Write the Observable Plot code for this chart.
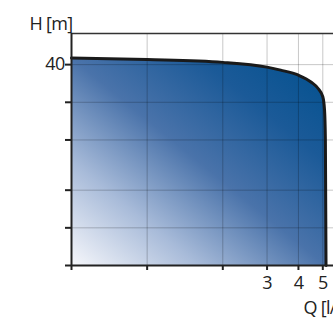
<!DOCTYPE html>
<html><head><meta charset="utf-8">
<script src="https://cdn.jsdelivr.net/npm/d3@7"></script>
<script src="https://cdn.jsdelivr.net/npm/@observablehq/plot@0.6"></script>
<style>body{margin:0;background:#fff;overflow:hidden} svg{overflow:hidden !important} svg text{letter-spacing:-0.7px}</style>
</head><body><div id="chart"></div>
<script>
// Pump curve: flow Q [l/s] vs head H [m]
const flowQ = [0.5, 1, 2, 3, 3.4, 4, 4.5, 4.8, 5.0, 5.08, 5.12, 5.15];
const headH = [41.3, 41.0, 40.45, 39.5, 38.9, 37.9, 36.5, 35.2, 33.6, 31, 25, 0];
const xTicks = [0.5, 1, 2, 3, 4, 5];
const xTickLabels = ["", "", "", "3", "4", "5"];
const yTicks = [0, 7.5, 15, 25, 32.5, 40];
const yTickLabels = ["", "", "", "", "", "40"];
const xTitle = "Q [l/s]";
const yTitle = "H [m]";

const curveData = flowQ.map((q, i) => ({q, h: headH[i]}));
const xLabelMap = new Map(xTicks.map((t, i) => [t, xTickLabels[i]]));
const yLabelMap = new Map(yTicks.map((t, i) => [t, yTickLabels[i]]));
const yMax = 46.2, xMax = 7;

const chart = Plot.plot({
  width: 333, height: 320,
  marginLeft: 71, marginTop: 33, marginBottom: 55, marginRight: 0,
  x: {type: "log", domain: [0.5, 5], range: [71, 322.3]},
  y: {domain: [0, yMax], range: [265, 33]},
  style: {fontFamily: "'Open Sans', sans-serif", fontSize: "18px", color: "#222", background: "#fff"},
  marks: [
    Plot.areaY(curveData, {x: "q", y: "h", fill: "url(#pumpGrad)", curve: "monotone-x"}),
    Plot.ruleX(xTicks.slice(1), {y1: 0, y2: yMax, stroke: "#000", strokeOpacity: 0.22}),
    Plot.ruleY(yTicks.slice(1), {x1: 0.5, x2: xMax, stroke: "#000", strokeOpacity: 0.22}),
    Plot.lineY(curveData, {x: "q", y: "h", stroke: "#1a1a1a", strokeWidth: 3, curve: "monotone-x"}),
    Plot.ruleY([yMax], {x1: 0.5, x2: xMax, stroke: "#333", strokeWidth: 1.5}),
    Plot.ruleY([0], {x1: 0.5, x2: xMax, stroke: "#222", strokeWidth: 2}),
    Plot.ruleX([0.5], {y1: 0, y2: yMax, stroke: "#222", strokeWidth: 2}),
    Plot.axisY({ticks: yTicks, tickFormat: d => yLabelMap.get(d), tickSize: 6, tickPadding: 1, stroke: "#222", strokeWidth: 2, label: null}),
    Plot.axisX({ticks: xTicks, tickFormat: d => xLabelMap.get(d), tickSize: 5, tickPadding: 6, stroke: "#222", strokeWidth: 2, label: null}),
    Plot.text([yTitle], {frameAnchor: "top-left", dx: -42, dy: -4, textAnchor: "start", lineAnchor: "bottom"}),
    Plot.text([xTitle], {frameAnchor: "bottom-right", dx: -30, dy: 48, textAnchor: "start", lineAnchor: "bottom"})
  ]
});

const defs = d3.select(chart).insert("defs", ":first-child");
const grad = defs.append("linearGradient").attr("id", "pumpGrad")
  .attr("x1", 0).attr("y1", 1).attr("x2", 1).attr("y2", 0);
[[0, "#f6f7fb"], [0.25, "#a8bbd9"], [0.5, "#4a73aa"], [0.75, "#1b5a98"], [1, "#00508e"]]
  .forEach(([o, c]) => grad.append("stop").attr("offset", o).attr("stop-color", c));

document.getElementById("chart").appendChild(chart);
</script>
</body></html>
